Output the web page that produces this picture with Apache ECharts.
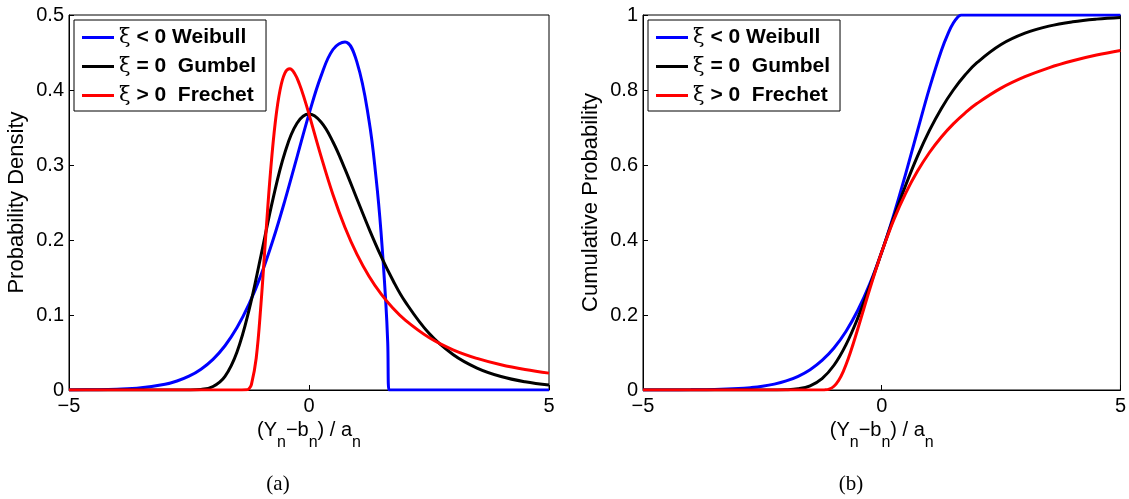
<!DOCTYPE html>
<html>
<head>
<meta charset="utf-8">
<script src="https://cdn.jsdelivr.net/npm/echarts@6/dist/echarts.min.js"></script>
<style>html,body{margin:0;padding:0;background:#fff}#c{width:1129px;height:499px}</style>
</head>
<body>
<div id="c"></div>
<script>
// ---- data ----
const pdfX = [-5,-4.5,-4,-3.5,-3,-2.75,-2.5,-2.25,-2,-1.75,-1.5,-1.25,-1,-0.75,-0.5,-0.25,0,0.25,0.5,0.75,1,1.25,1.5,1.75,2,2.5,3,3.5,4,4.5,5];
const gumbelPdf = [0,0,0,0,0,0.00001,0.00006,0.0007,0.0046,0.0182,0.0507,0.1065,0.1794,0.2549,0.3170,0.3556,0.3679,0.3574,0.3307,0.2945,0.2546,0.2151,0.1785,0.1460,0.1182,0.0756,0.0474,0.0293,0.0180,0.0110,0.0067];
const gumbelCdf = [0,0,0,0,0,0,0.00001,0.0001,0.0006,0.0032,0.0113,0.0305,0.0660,0.1204,0.1923,0.2769,0.3679,0.4590,0.5452,0.6235,0.6922,0.7509,0.8000,0.8405,0.8734,0.9212,0.9514,0.9703,0.9819,0.9890,0.9933];

const weibullX = [-5,-4.5,-4,-3.5,-3,-2.75,-2.5,-2.25,-2,-1.75,-1.5,-1.25,-1,-0.75,-0.5,-0.25,0,0.25,0.5,0.75,1,1.25,1.4,1.5,1.6,1.64,1.667,2,3,4,5];
const weibullPdf = [0.0001,0.0003,0.0010,0.0029,0.0076,0.0120,0.0184,0.0278,0.0409,0.0590,0.0832,0.1144,0.1532,0.1999,0.2532,0.3106,0.3679,0.4185,0.4540,0.4640,0.4369,0.3594,0.2811,0.2108,0.1164,0.0635,0,0,0,0,0];
const weibullCdf = [0.00004,0.0001,0.0005,0.0014,0.0038,0.0063,0.0100,0.0157,0.0242,0.0366,0.0542,0.0788,0.1120,0.1560,0.2126,0.2830,0.3679,0.4664,0.5759,0.6913,0.8049,0.9056,0.9539,0.9787,0.9953,0.9990,1,1,1,1,1];

const frechetX = [-5,-4,-3,-2,-1.5,-1.4,-1.3,-1.25,-1.2,-1.1,-1,-0.9,-0.8,-0.7,-0.6,-0.5,-0.4,-0.3,-0.2,-0.1,0,0.25,0.5,0.75,1,1.25,1.5,1.75,2,2.5,3,3.5,4,4.5,5];
const frechetPdf = [0,0,0,0,0,0,0.0002,0.0017,0.0071,0.0424,0.1150,0.2066,0.2922,0.3583,0.4009,0.4228,0.4282,0.4220,0.4080,0.3892,0.3679,0.3119,0.2604,0.2167,0.1808,0.1517,0.1281,0.1090,0.0934,0.0699,0.0536,0.0421,0.0336,0.0273,0.0225];
const frechetCdf = [0,0,0,0,0,0,0,0,0.0002,0.0024,0.0100,0.0260,0.0511,0.0838,0.1220,0.1633,0.2060,0.2486,0.2901,0.3300,0.3679,0.4529,0.5243,0.5837,0.6333,0.6747,0.7096,0.7391,0.7644,0.8049,0.8354,0.8592,0.8780,0.8932,0.9056];

const xTicks = {min:-5, max:5, step:5};
const pdfTicks = {min:0, max:0.5, step:0.1};
const cdfTicks = {min:0, max:1, step:0.2};
const legendLabels = {Weibull:['<', '0 Weibull'], Gumbel:['=', '0  Gumbel'], Frechet:['>', '0  Frechet']};
const colors = {Weibull:'#0000ff', Gumbel:'#000000', Frechet:'#ff0000'};

const zip = (xs, ys) => xs.map((x,i)=>[x, ys[i]]);
const SANS = 'Liberation Sans, Arial, sans-serif';

const grids = [
  {left:69, top:15, width:480, height:375, show:true, borderColor:'#000', borderWidth:1},
  {left:643, top:15, width:480, height:375, show:true, borderColor:'#000', borderWidth:1}
];
function xAxis(i){
  return {
    type:'value', gridIndex:i, min:xTicks.min, max:xTicks.max, interval:xTicks.step,
    axisLine:{onZero:false, lineStyle:{color:'#000', width:1}},
    axisTick:{inside:true, length:5, lineStyle:{color:'#000'}},
    splitLine:{show:false},
    axisLabel:{color:'#000', fontFamily:SANS, fontSize:20, margin:6,
      formatter:v => v<0 ? '\u2212'+Math.abs(v) : String(v)},
    name:'(Y{s|n}\u2212b{s|n}) / a{s|n}', nameLocation:'middle', nameGap:15,
    nameTextStyle:{color:'#000', fontFamily:SANS, fontSize:20,
      rich:{s:{fontFamily:SANS, fontSize:16, color:'#000', padding:[24,0,0,0]}}}
  };
}
function yAxis(i, t, name){
  return {
    type:'value', gridIndex:i, min:t.min, max:t.max, interval:t.step,
    axisLine:{onZero:false, lineStyle:{color:'#000', width:1}},
    axisTick:{inside:true, length:5, lineStyle:{color:'#000'}},
    splitLine:{show:false},
    axisLabel:{color:'#000', fontFamily:SANS, fontSize:20, margin:5,
      formatter:v => String(Math.round(v*10)/10)},
    name:name, nameLocation:'middle', nameGap:41, nameRotate:90,
    nameTextStyle:{color:'#000', fontFamily:SANS, fontSize:22}
  };
}
function series(name, xs, ys, gi){
  return {name, type:'line', xAxisIndex:gi, yAxisIndex:gi, data:zip(xs, ys),
    showSymbol:false, smooth:0.4,
    lineStyle:{color:colors[name], width:3}, itemStyle:{color:colors[name]}, z:3};
}
function legend(left){
  return {
    orient:'vertical', left:left, top:20, padding:[7,10,5,8], itemGap:8,
    borderColor:'#000', borderWidth:1, backgroundColor:'#fff',
    itemWidth:32, itemHeight:3, icon:'rect', selectedMode:false,
    data:['Weibull','Gumbel','Frechet'],
    textStyle:{color:'#000', fontFamily:SANS, fontSize:21, fontWeight:'bold', lineHeight:21,
      rich:{g:{fontFamily:'DejaVu Serif, serif', fontSize:21, fontWeight:'normal', color:'#000'},
            b:{fontFamily:SANS, fontSize:21, fontWeight:'bold', color:'#000'}}},
    formatter: n => '{g|\u03be} {b|' + legendLabels[n][0] + ' ' + legendLabels[n][1] + '}'
  };
}

const chart = echarts.init(document.getElementById('c'), null, {renderer:'canvas'});
chart.setOption({
  animation:false,
  backgroundColor:'#fff',
  grid:grids,
  xAxis:[xAxis(0), xAxis(1)],
  yAxis:[yAxis(0, pdfTicks, 'Probability Density'), yAxis(1, cdfTicks, 'Cumulative Probability')],
  legend:[legend(74), legend(648)],
  series:[
    series('Weibull', weibullX, weibullPdf, 0),
    series('Gumbel', pdfX, gumbelPdf, 0),
    series('Frechet', frechetX, frechetPdf, 0),
    series('Weibull', weibullX, weibullCdf, 1),
    series('Gumbel', pdfX, gumbelCdf, 1),
    series('Frechet', frechetX, frechetCdf, 1)
  ],
  graphic:[
    {type:'text', x:278, y:484, style:{text:'(a)', align:'center', verticalAlign:'middle', fill:'#000', font:'21px "Liberation Serif", serif'}},
    {type:'text', x:851, y:484, style:{text:'(b)', align:'center', verticalAlign:'middle', fill:'#000', font:'21px "Liberation Serif", serif'}}
  ]
});
</script>
</body>
</html>
